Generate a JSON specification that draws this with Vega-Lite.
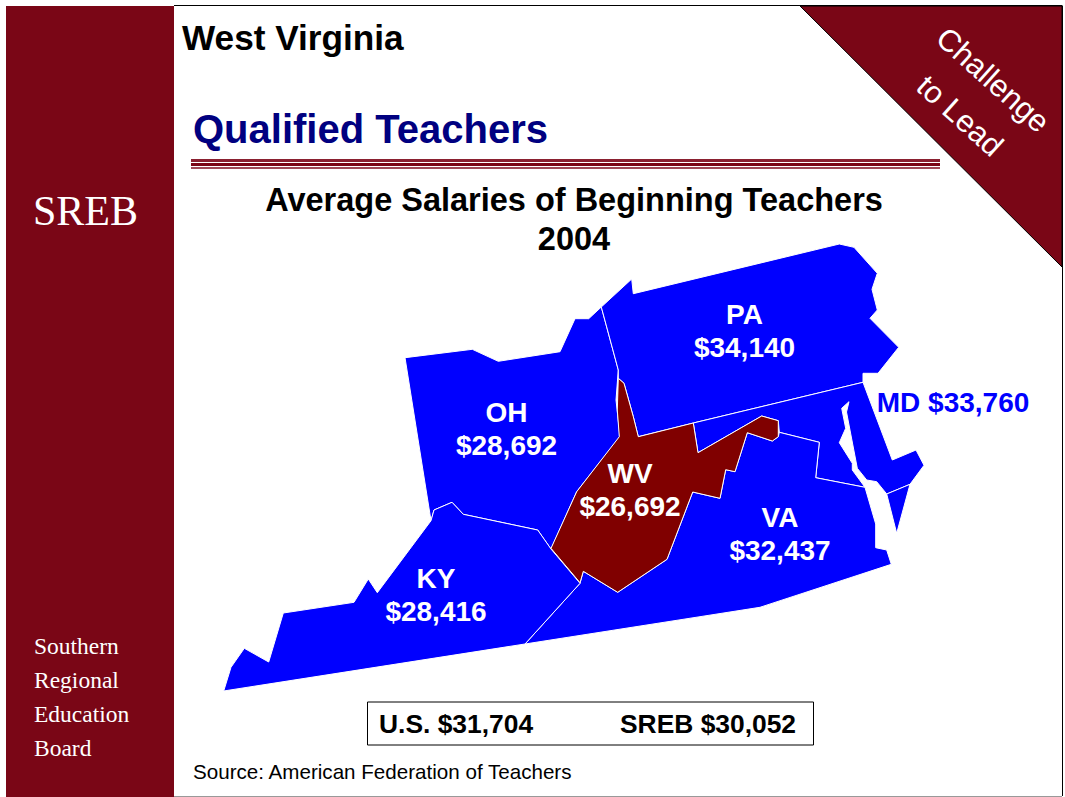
{"$schema":"https://vega.github.io/schema/vega-lite/v6.json","width":1065,"height":797,"padding":0,"autosize":"none","background":"white","config":{"view":{"stroke":null},"text":{"font":"Liberation Sans"}},
"data":{"values":[{"frame":"slide"}]},
"datasets":{
"states":{"type":"FeatureCollection","features":[
{"type":"Feature","properties":{"state":"OH","group":"Neighbor"},"geometry":{"type":"Polygon","coordinates":[[[405,357.7],[472.3,349.3],[498.3,361.3],[560,351.7],[575,318.7],[588.7,318.7],[601.3,307],[618.3,370],[616,400],[620,436.7],[576.7,491.7],[551,549],[537.7,530],[463.3,514.3],[452,502.3],[434,510],[431,520.7],[405,357.7]]]}},
{"type":"Feature","properties":{"state":"PA","group":"Neighbor"},"geometry":{"type":"Polygon","coordinates":[[[601.3,307],[631.7,279],[633.3,293.7],[839.3,244],[854,247.3],[877.3,273.3],[872,289.3],[877.3,310],[870,318.3],[898.7,347.3],[878,373.3],[863,373.3],[863,382.3],[693.3,423],[638.3,436.7],[633.3,416.7],[624,383.3],[618.3,378.3],[618.3,370],[601.3,307]]]}},
{"type":"Feature","properties":{"state":"MD","group":"Neighbor"},"geometry":{"type":"Polygon","coordinates":[[[863,382.3],[892.3,460],[916,450],[924,465.3],[910,484.3],[886.7,494],[876.7,481.7],[866.7,480],[857.3,468.3],[846.5,412],[849,401.7],[841.7,408.3],[845.7,428.3],[839.3,442.7],[852.3,463.3],[852.3,470],[865,487.3],[815.7,477.7],[819.3,442.3],[779.3,432.3],[778.3,420.7],[761.7,416],[698,452.7],[693.3,423],[863,382.3]]]}},
{"type":"Feature","properties":{"state":"VA","group":"Neighbor"},"geometry":{"type":"MultiPolygon","coordinates":[[[[865,487.3],[875.7,524],[875.7,547.7],[886.7,550],[891.3,564.3],[760,607.3],[700,616.7],[525,644],[580,583.3],[583.3,571.3],[617.7,592.3],[667,559.3],[692.7,492],[720,498.3],[725.7,469.7],[735,471.7],[747.3,432.7],[772.3,441],[778.3,436.7],[779.3,432.3],[819.3,442.3],[815.7,477.7],[865,487.3]]],[[[886.7,494],[910,484.3],[896.7,533.3],[886.7,494]]]]}},
{"type":"Feature","properties":{"state":"KY","group":"Neighbor"},"geometry":{"type":"Polygon","coordinates":[[[525,644],[580,583.3],[551,549],[537.7,530],[463.3,514.3],[452,502.3],[434,510],[431,520.7],[377.3,592.7],[368.3,579],[354,602.3],[283.3,613],[268.7,662],[244.3,648.3],[231,667.3],[223.7,691],[525,644]]]}},
{"type":"Feature","properties":{"state":"WV","group":"West Virginia"},"geometry":{"type":"Polygon","coordinates":[[[618.3,378.3],[624,383.3],[633.3,416.7],[638.3,436.7],[693.3,423],[698,452.7],[761.7,416],[778.3,420.7],[778.3,436.7],[772.3,441],[747.3,432.7],[735,471.7],[725.7,469.7],[720,498.3],[692.7,492],[667,559.3],[617.7,592.3],[583.3,571.3],[580,582.7],[551,548.3],[576.7,491.7],[619.3,436.7],[617.3,410],[618.3,378.3]]]}}
]},
"corner":{"type":"FeatureCollection","features":[{"type":"Feature","properties":{"name":"Challenge corner"},"geometry":{"type":"Polygon","coordinates":[[[800,6],[1062,6],[1062,267],[800,6]]]}}]},
"labels":[
{"label":"PA|$34,140","state":"PA","lon":744.5,"lat":323.5},
{"label":"OH|$28,692","state":"OH","lon":506.5,"lat":421.5},
{"label":"WV|$26,692","state":"WV","lon":630,"lat":482.5},
{"label":"VA|$32,437","state":"VA","lon":780,"lat":527},
{"label":"KY|$28,416","state":"KY","lon":436,"lat":588},
{"label":"MD $33,760","state":"MD","lon":953,"lat":411.5}
]},
"encoding":{"x":{"type":"quantitative","scale":{"domain":[0,1065],"range":[0,1065],"nice":false},"axis":null},"y":{"type":"quantitative","scale":{"domain":[0,797],"range":[0,797],"nice":false},"axis":null}},
"layer":[
{"mark":{"type":"rect","fill":"#7a0616"},"encoding":{"x":{"datum":6,"type":"quantitative"},"x2":{"datum":174},"y":{"datum":6,"type":"quantitative"},"y2":{"datum":797}}},
{"mark":{"type":"rule","color":"#000000","strokeWidth":1},"encoding":{"x":{"datum":174,"type":"quantitative"},"x2":{"datum":1062},"y":{"datum":5.5,"type":"quantitative"}}},
{"mark":{"type":"rule","color":"#000000","strokeWidth":1},"encoding":{"x":{"datum":1062.5,"type":"quantitative"},"y":{"datum":5.5,"type":"quantitative"},"y2":{"datum":796}}},
{"mark":{"type":"rule","color":"#999999","strokeWidth":1},"encoding":{"x":{"datum":174,"type":"quantitative"},"x2":{"datum":1062},"y":{"datum":796.5,"type":"quantitative"}}},
{"data":{"name":"corner","format":{"type":"json","property":"features"}},"mark":{"type":"geoshape","fill":"#7a0616","stroke":"#000000","strokeWidth":1},"projection":{"type":"identity","scale":1,"translate":[0,0]}},
{"mark":{"type":"rect","fill":"#8a2030"},"encoding":{"x":{"datum":191,"type":"quantitative"},"x2":{"datum":940},"y":{"datum":159,"type":"quantitative"},"y2":{"datum":162}}},
{"mark":{"type":"rect","fill":"#7a0616"},"encoding":{"x":{"datum":191,"type":"quantitative"},"x2":{"datum":940},"y":{"datum":163,"type":"quantitative"},"y2":{"datum":166}}},
{"mark":{"type":"rect","fill":"#a04a58"},"encoding":{"x":{"datum":191,"type":"quantitative"},"x2":{"datum":940},"y":{"datum":167,"type":"quantitative"},"y2":{"datum":169}}},
{"data":{"name":"states","format":{"type":"json","property":"features"}},"mark":{"type":"geoshape","stroke":"#ffffff","strokeWidth":1},"projection":{"type":"identity","scale":1,"translate":[0,0]},"encoding":{"color":{"field":"properties.group","type":"nominal","scale":{"domain":["Neighbor","West Virginia"],"range":["#0000ff","#800000"]},"legend":null},"order":{"field":"properties.group"}}},
{"data":{"name":"labels"},"mark":{"type":"text","font":"Liberation Sans","fontWeight":"bold","fontSize":28,"lineBreak":"|","lineHeight":33,"align":"center","baseline":"alphabetic"},"projection":{"type":"identity","scale":1,"translate":[0,0]},"encoding":{"longitude":{"field":"lon","type":"quantitative"},"latitude":{"field":"lat","type":"quantitative"},"text":{"field":"label"},"color":{"condition":{"test":"datum.state==='MD'","value":"#0000ff"},"value":"#ffffff"}}},
{"data":{"values":[{"t":"West Virginia"}]},"mark":{"type":"text","fontWeight":"bold","fontSize":35.2,"align":"left","baseline":"alphabetic","color":"#000000"},"encoding":{"x":{"datum":182,"type":"quantitative"},"y":{"datum":50,"type":"quantitative"},"text":{"field":"t"}}},
{"data":{"values":[{"t":"Qualified Teachers"}]},"mark":{"type":"text","fontWeight":"bold","fontSize":40,"align":"left","baseline":"alphabetic","color":"#000080"},"encoding":{"x":{"datum":193,"type":"quantitative"},"y":{"datum":143,"type":"quantitative"},"text":{"field":"t"}}},
{"data":{"values":[{"t":"Average Salaries of Beginning Teachers"}]},"mark":{"type":"text","fontWeight":"bold","fontSize":32.5,"align":"center","baseline":"alphabetic","color":"#000000"},"encoding":{"x":{"datum":574,"type":"quantitative"},"y":{"datum":211,"type":"quantitative"},"text":{"field":"t"}}},
{"data":{"values":[{"t":"2004"}]},"mark":{"type":"text","fontWeight":"bold","fontSize":32.5,"align":"center","baseline":"alphabetic","color":"#000000"},"encoding":{"x":{"datum":574,"type":"quantitative"},"y":{"datum":250,"type":"quantitative"},"text":{"field":"t"}}},
{"data":{"values":[{"t":"Challenge"}]},"mark":{"type":"text","fontSize":31,"align":"center","baseline":"middle","color":"#ffffff","angle":42},"encoding":{"x":{"datum":992,"type":"quantitative"},"y":{"datum":81,"type":"quantitative"},"text":{"field":"t"}}},
{"data":{"values":[{"t":"to Lead"}]},"mark":{"type":"text","fontSize":31,"align":"center","baseline":"middle","color":"#ffffff","angle":42},"encoding":{"x":{"datum":959,"type":"quantitative"},"y":{"datum":117,"type":"quantitative"},"text":{"field":"t"}}},
{"data":{"values":[{"t":"SREB"}]},"mark":{"type":"text","font":"Liberation Serif","fontSize":42,"align":"left","baseline":"alphabetic","color":"#ffffff"},"encoding":{"x":{"datum":33,"type":"quantitative"},"y":{"datum":225,"type":"quantitative"},"text":{"field":"t"}}},
{"data":{"values":[{"t":"Southern|Regional|Education|Board"}]},"mark":{"type":"text","font":"Liberation Serif","fontSize":23.5,"lineBreak":"|","lineHeight":34,"align":"left","baseline":"alphabetic","color":"#ffffff"},"encoding":{"x":{"datum":34,"type":"quantitative"},"y":{"datum":654,"type":"quantitative"},"text":{"field":"t"}}},
{"mark":{"type":"rect","fill":"#ffffff","stroke":"#000000","strokeWidth":1},"encoding":{"x":{"datum":367.5,"type":"quantitative"},"x2":{"datum":813.5},"y":{"datum":702,"type":"quantitative"},"y2":{"datum":745}}},
{"data":{"values":[{"t":"U.S. $31,704"}]},"mark":{"type":"text","fontWeight":"bold","fontSize":26.4,"align":"left","baseline":"alphabetic","color":"#000000"},"encoding":{"x":{"datum":379,"type":"quantitative"},"y":{"datum":733,"type":"quantitative"},"text":{"field":"t"}}},
{"data":{"values":[{"t":"SREB $30,052"}]},"mark":{"type":"text","fontWeight":"bold","fontSize":26.4,"align":"left","baseline":"alphabetic","color":"#000000"},"encoding":{"x":{"datum":620,"type":"quantitative"},"y":{"datum":733,"type":"quantitative"},"text":{"field":"t"}}},
{"data":{"values":[{"t":"Source: American Federation of Teachers"}]},"mark":{"type":"text","fontSize":20.6,"align":"left","baseline":"alphabetic","color":"#000000"},"encoding":{"x":{"datum":193,"type":"quantitative"},"y":{"datum":779,"type":"quantitative"},"text":{"field":"t"}}}
]}
